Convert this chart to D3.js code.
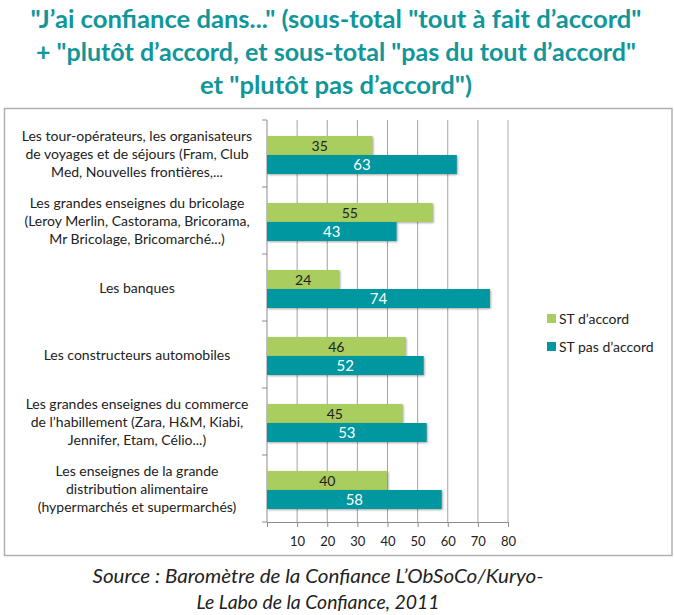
<!DOCTYPE html>
<html>
<head>
<meta charset="utf-8">
<script src="https://cdn.jsdelivr.net/npm/d3@7"></script>
<style>
  body { margin: 0; background: #fff; }
  svg { display: block; }
</style>
</head>
<body>
<svg id="chart" width="674" height="615"></svg>
<script>
// data
var categories = [
  ["Les tour-opérateurs, les organisateurs", "de voyages et de séjours (Fram, Club", "Med, Nouvelles frontières,..."],
  ["Les grandes enseignes du bricolage", "(Leroy Merlin, Castorama, Bricorama,", "Mr Bricolage, Bricomarché...)"],
  ["Les banques"],
  ["Les constructeurs automobiles"],
  ["Les grandes enseignes du commerce", "de l’habillement (Zara, H&M, Kiabi,", "Jennifer, Etam, Célio...)"],
  ["Les enseignes de la grande", "distribution alimentaire", "(hypermarchés et supermarchés)"]
];
var stAccord = [35, 55, 24, 46, 45, 40];
var stPasAccord = [63, 43, 74, 52, 53, 58];
var seriesNames = ["ST d’accord", "ST pas d’accord"];
var xTicks = [10, 20, 30, 40, 50, 60, 70, 80];
var titleLines = [
  "\"J’ai confiance dans...\" (sous-total \"tout à fait d’accord\"",
  "+ \"plutôt d’accord, et sous-total \"pas du tout d’accord\"",
  "et \"plutôt pas d’accord\")"
];
var sourceLines = ["Source : Baromètre de la Confiance L’ObSoCo/Kuryo-", "Le Labo de la Confiance, 2011"];

var color = ["#a9cd5f", "#0097a0"];
var font = "Lato, 'Open Sans', sans-serif";

var svg = d3.select("#chart");

// title
var titleW = [611, 600, 272];
svg.selectAll("text.title")
  .data(titleLines)
  .enter()
  .append("text")
    .attr("class", "title")
    .attr("x", 336)
    .attr("y", function(d, i) { return 28 + i * 33; })
    .attr("text-anchor", "middle")
    .attr("font-family", font)
    .attr("font-weight", "bold")
    .attr("font-size", 25)
    .attr("fill", "#11969a")
    .attr("textLength", function(d, i) { return titleW[i]; })
    .attr("lengthAdjust", "spacingAndGlyphs")
    .text(function(d) { return d; });

// frame
svg.append("rect")
  .attr("x", 4.5).attr("y", 108.5)
  .attr("width", 667.5).attr("height", 447)
  .attr("fill", "none")
  .attr("stroke", "#b0b0b0")
  .attr("stroke-width", 1.5);

// scales
var xScale = d3.scaleLinear().domain([0, 80]).range([267, 508]);
var yScale = d3.scaleBand().domain(d3.range(categories.length)).range([120, 522]);

// gridlines
svg.append("g")
  .selectAll("line")
  .data(xTicks)
  .enter()
  .append("line")
    .attr("x1", function(d) { return xScale(d); })
    .attr("x2", function(d) { return xScale(d); })
    .attr("y1", 120)
    .attr("y2", 522)
    .attr("stroke", function(d) { return d == 80 ? "#c8c8c8" : "#8c8c8c"; })
    .attr("stroke-width", function(d) { return d == 80 ? 1.5 : 0.8; });

// x axis
var xAxis = svg.append("g")
  .attr("transform", "translate(0,522)")
  .call(d3.axisBottom(xScale).tickValues([0].concat(xTicks)).tickSize(5).tickPadding(10)
    .tickFormat(function(d) { return d == 0 ? "" : d; }));
xAxis.select(".domain").attr("stroke", "#8c8c8c");
xAxis.selectAll(".tick line").attr("stroke", "#8c8c8c");
xAxis.selectAll("text").attr("font-family", font).attr("font-size", 13).attr("fill", "#222");

// y axis line and ticks between categories
svg.append("line")
  .attr("x1", 267).attr("x2", 267).attr("y1", 120).attr("y2", 522)
  .attr("stroke", "#8c8c8c");
svg.append("g")
  .selectAll("line")
  .data(d3.range(categories.length + 1))
  .enter()
  .append("line")
    .attr("x1", 262).attr("x2", 267)
    .attr("y1", function(d) { return 120 + d * yScale.step(); })
    .attr("y2", function(d) { return 120 + d * yScale.step(); })
    .attr("stroke", "#8c8c8c");

// category labels
var labels = svg.append("g")
  .selectAll("text")
  .data(categories)
  .enter()
  .append("text")
    .attr("text-anchor", "middle")
    .attr("font-family", font)
    .attr("font-size", 14)
    .attr("fill", "#222");
labels.each(function(lines, i) {
  var cy = yScale(i) + yScale.bandwidth() / 2;
  var t = d3.select(this);
  lines.forEach(function(l, j) {
    t.append("tspan")
      .attr("x", 137)
      .attr("y", cy + (j - (lines.length - 1) / 2) * 18 + 5)
      .text(l);
  });
});

// bars
var barH = 19;
var series = [stAccord, stPasAccord];
series.forEach(function(vals, s) {
  var g = svg.append("g");
  g.selectAll("rect")
    .data(vals)
    .enter()
    .append("rect")
      .attr("x", xScale(0))
      .attr("y", function(d, i) { return yScale(i) + yScale.bandwidth() / 2 - barH + 1.5 + s * barH; })
      .attr("width", function(d) { return xScale(d) - xScale(0); })
      .attr("height", barH)
      .attr("fill", color[s])
      .style("filter", "drop-shadow(1px 1px 1px rgba(0,0,0,0.35))");
  g.selectAll("text")
    .data(vals)
    .enter()
    .append("text")
      .attr("x", function(d) { return (xScale(d) + xScale(0)) / 2; })
      .attr("y", function(d, i) { return yScale(i) + yScale.bandwidth() / 2 - barH + 1.5 + s * barH + barH / 2 + 5; })
      .attr("text-anchor", "middle")
      .attr("font-family", font)
      .attr("font-size", s == 0 ? 14 : 15)
      .attr("fill", s == 0 ? "#222" : "#fff")
      .text(function(d) { return d; });
});

// legend
var legend = svg.append("g")
  .selectAll("g")
  .data(seriesNames)
  .enter()
  .append("g")
    .attr("transform", function(d, i) { return "translate(547," + (314 + i * 28) + ")"; });
legend.append("rect")
  .attr("width", 9).attr("height", 9)
  .attr("fill", function(d, i) { return color[i]; });
legend.append("text")
  .attr("x", 12).attr("y", 9.5)
  .attr("font-family", font)
  .attr("font-size", 14)
  .attr("fill", "#222")
  .text(function(d) { return d; });

// source
var sourceW = [451, 243];
svg.selectAll("text.source")
  .data(sourceLines)
  .enter()
  .append("text")
    .attr("class", "source")
    .attr("x", 318)
    .attr("y", function(d, i) { return 583 + i * 26; })
    .attr("text-anchor", "middle")
    .attr("font-family", font)
    .attr("font-style", "italic")
    .attr("font-size", 20)
    .attr("fill", "#222")
    .attr("textLength", function(d, i) { return sourceW[i]; })
    .attr("lengthAdjust", "spacingAndGlyphs")
    .text(function(d) { return d; });
</script>
</body>
</html>
